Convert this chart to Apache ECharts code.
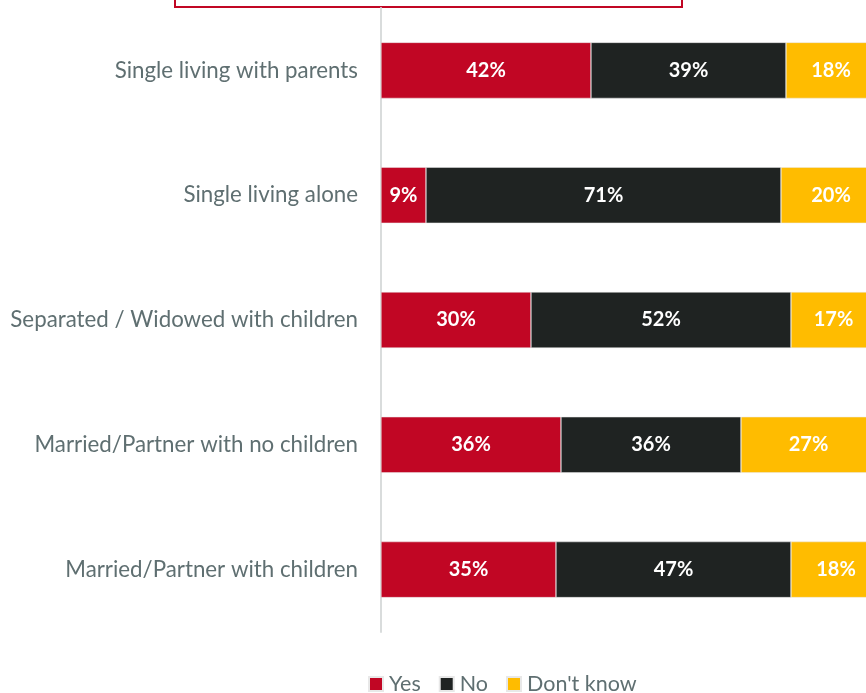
<!DOCTYPE html>
<html>
<head>
<meta charset="utf-8">
<script src="https://cdn.jsdelivr.net/npm/echarts@6/dist/echarts.min.js"></script>
<style>
  html, body { margin: 0; padding: 0; background: #ffffff; }
  #chart { width: 866px; height: 693px; }
</style>
</head>
<body>
<div id="chart"></div>
<script>
// Household types, listed top to bottom
const categories = [
  'Single living with parents',
  'Single living alone',
  'Separated / Widowed with children',
  'Married/Partner with no children',
  'Married/Partner with children'
];
const yesValues = [42, 9, 30, 36, 35];
const noValues = [39, 71, 52, 36, 47];
const dontKnowValues = [18, 20, 17, 27, 18];
const seriesNames = ['Yes', 'No', "Don't know"];

const FONT = 'Lato, "Open Sans", sans-serif';
const colors = ['#c10624', '#1f2322', '#ffbc00'];

const chart = echarts.init(document.getElementById('chart'));

function barSeries(name, data, color) {
  return {
    name: name,
    type: 'bar',
    stack: 'total',
    barWidth: 56,
    clip: false,          // the last segment runs past the right edge of the page
    data: data,
    itemStyle: { color: color, borderColor: '#e8e8e8', borderWidth: 0.5 },
    label: {
      show: true,
      position: 'inside',
      formatter: '{c}%',
      color: '#ffffff',
      fontFamily: FONT,
      fontWeight: 'bold',
      fontSize: 20
    },
    emphasis: { disabled: true }
  };
}

chart.setOption({
  animation: false,
  grid: { left: 381, right: 0, top: 8, bottom: 61, containLabel: false },
  xAxis: {
    type: 'value',
    min: 0,
    max: 97,
    show: false
  },
  yAxis: {
    type: 'category',
    data: categories,
    inverse: true,
    axisLine: { show: true, lineStyle: { color: '#d9dcdc', width: 2 } },
    axisTick: { show: false },
    axisLabel: {
      color: '#5f6f71',
      fontFamily: FONT,
      fontSize: 22.3,
      margin: 23
    }
  },
  legend: {
    bottom: -2,
    left: 368,
    padding: 0,
    itemWidth: 14,
    itemHeight: 14,
    itemGap: 18,
    icon: 'rect',
    data: seriesNames,
    textStyle: { color: '#5f6f71', fontFamily: FONT, fontSize: 21.5, padding: [0, 0, 0, 1] }
  },
  graphic: [{
    type: 'rect',
    shape: { x: 175, y: -40, width: 507, height: 47 },
    style: { fill: 'none', stroke: '#c10624', lineWidth: 2 }
  }],
  series: [
    barSeries(seriesNames[0], yesValues, colors[0]),
    barSeries(seriesNames[1], noValues, colors[1]),
    barSeries(seriesNames[2], dontKnowValues, colors[2])
  ]
});
</script>
</body>
</html>
